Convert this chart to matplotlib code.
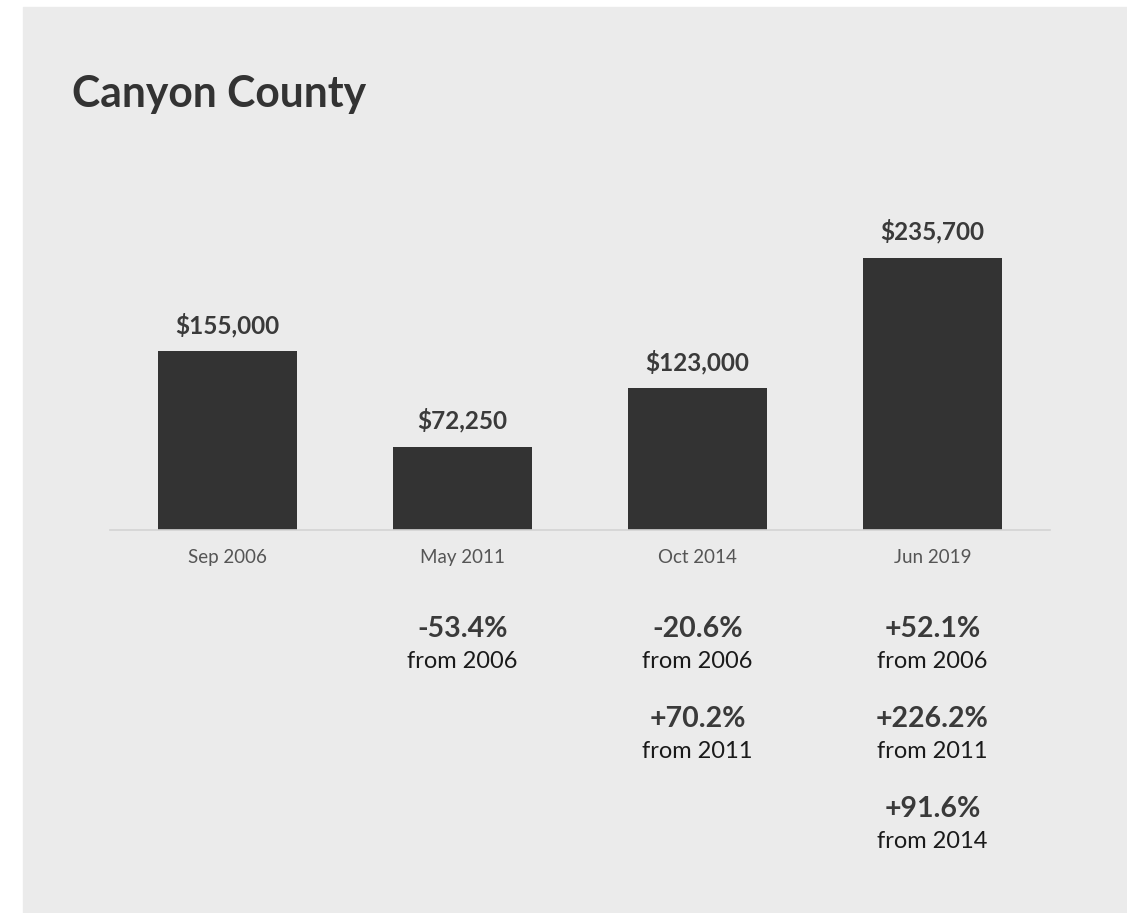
import matplotlib.pyplot as plt
from matplotlib.transforms import blended_transform_factory

plt.rcParams['font.family'] = ['Lato', 'DejaVu Sans']

# Median price at each point in time
periods = ['Sep 2006', 'May 2011', 'Oct 2014', 'Jun 2019']
prices = [155000, 72250, 123000, 235700]
base_years = ['2006', '2011', '2014']

bg = '#ebebeb'
bar_color = '#333333'

fig = plt.figure(figsize=(11.27, 9.13), dpi=100)
fig.patch.set_facecolor('white')
# grey panel behind everything
fig.add_artist(plt.Rectangle((23 / 1127, -0.01), 1, 1.01 - 7 / 913,
                             transform=fig.transFigure, color=bg, zorder=0))

ax = fig.add_axes([110 / 1127, 1 - 530 / 913, 940 / 1127, 300 / 913])
ax.set_facecolor('none')

x = range(len(prices))
ax.bar(x, prices, width=0.59, color=bar_color, zorder=2)
ax.set_xlim(-0.5, len(prices) - 0.5)
ax.set_ylim(0, 300 / (179 / 155000))

for s in ['top', 'right', 'left']:
    ax.spines[s].set_visible(False)
ax.spines['bottom'].set_color('#d4d4d4')
ax.spines['bottom'].set_linewidth(1.2)
ax.set_yticks([])
ax.set_xticks(list(x))
ax.set_xticklabels(periods, fontsize=13.5, color='#555555')
ax.tick_params(axis='x', length=0, pad=14)

for i, p in enumerate(prices):
    ax.annotate(f'${p:,}', (i, p), xytext=(0, 10), textcoords='offset points',
                ha='center', va='bottom', fontsize=17.5, fontweight='bold',
                color='#3a3a3a')

# percentage change versus each earlier period
trans = blended_transform_factory(ax.transData, fig.transFigure)
for i in range(1, len(prices)):
    for j in range(i):
        pct = (prices[i] / prices[j] - 1) * 100
        y_top = 629 + 90 * j
        ax.text(i, 1 - y_top / 913, f'{pct:+.1f}%', transform=trans,
                ha='center', va='center', fontsize=20.5, fontweight='bold',
                color='#3a3a3a')
        ax.text(i, 1 - (y_top + 32) / 913, f'from {base_years[j]}', transform=trans,
                ha='center', va='center', fontsize=17, color='#1a1a1a')

fig.text(72 / 1127, 1 - 107 / 913, 'Canyon County', fontsize=30.7, fontweight='bold',
         color='#333333', va='baseline', ha='left')

fig.savefig('out.png', dpi=100, facecolor=fig.get_facecolor())
